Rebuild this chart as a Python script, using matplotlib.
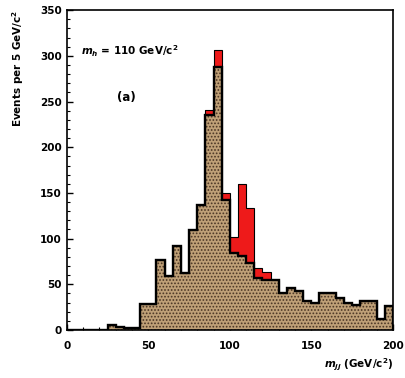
import numpy as np
import matplotlib
matplotlib.use('Agg')
import matplotlib.pyplot as plt
from matplotlib.ticker import MultipleLocator

# bin edges, 5 GeV/c^2 wide
bordas = np.arange(0, 205, 5)

# fundo (castanho) por bin, 0-200
fundo = [0, 0, 0, 0, 0, 5, 3, 2, 2, 28,
         28, 77, 59, 92, 62, 109, 137, 235, 288, 142,
         84, 81, 73, 57, 55, 55, 41, 46, 43, 32,
         29, 41, 41, 35, 30, 27, 32, 32, 12, 26]

# sinal (vermelho) empilhado em cima do fundo
sinal = [0, 0, 0, 0, 0, 0, 0, 0, 0, 0,
         0, 0, 0, 0, 0, 0, 0, 6, 18, 8,
         18, 79, 60, 11, 9, 0, 0, 0, 0, 0,
         0, 0, 0, 0, 0, 0, 0, 0, 0, 0]

fundo = np.array(fundo)
total = fundo + np.array(sinal)

plt.rcParams['hatch.linewidth'] = 0.8
plt.rcParams['font.weight'] = 'bold'

fig = plt.figure(figsize=(4.05, 3.78), dpi=100)
ax = fig.add_axes([0.165, 0.127, 0.805, 0.846])

ax.stairs(total, bordas, fill=True, color='#ee1a1a', zorder=1)
ax.stairs(fundo, bordas, fill=True, facecolor='#bfa077', edgecolor='#4a3524',
          hatch='.....', linewidth=0, zorder=2)
ax.stairs(total, bordas, color='black', linewidth=0.8, zorder=3)
ax.stairs(fundo, bordas, color='black', linewidth=1.7, zorder=4)

ax.set_xlim(0, 200)
ax.set_ylim(0, 350)
ax.xaxis.set_major_locator(MultipleLocator(50))
ax.yaxis.set_major_locator(MultipleLocator(50))
ax.yaxis.set_minor_locator(MultipleLocator(10))
ax.xaxis.set_minor_locator(MultipleLocator(10))
ax.tick_params(which='both', direction='in', labelsize=7.5)
ax.tick_params(which='major', length=4, width=1)
ax.tick_params(which='minor', length=2, width=0.8)
ax.tick_params(axis='x', pad=8)
for s in ax.spines.values():
    s.set_linewidth(1.2)

ax.set_ylabel('Events per 5 GeV/c$^2$', loc='top', fontsize=7.5, fontweight='bold', labelpad=10)
ax.set_xlabel('$m_{jj}$ (GeV/c$^2$)', loc='right', fontsize=7.5, fontweight='bold', labelpad=4)

ax.text(9, 305, '$m_h$ = 110 GeV/c$^2$', fontsize=7.5, fontweight='bold', va='center')
ax.text(31, 255, '(a)', fontsize=8.5, fontweight='bold', va='center')

plt.savefig('out.png', dpi=100)
